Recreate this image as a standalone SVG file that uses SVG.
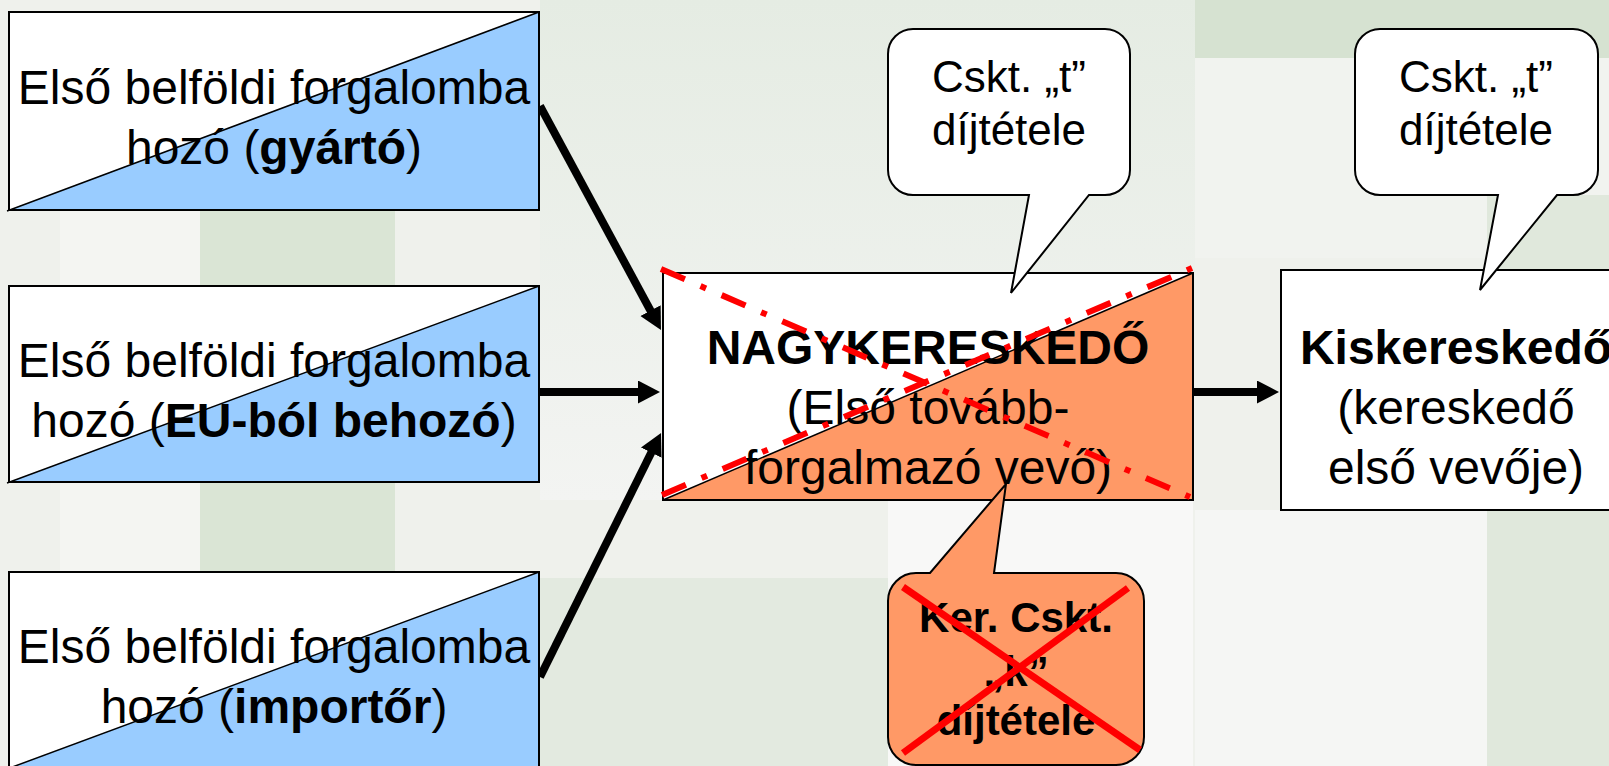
<svg xmlns="http://www.w3.org/2000/svg" width="1609" height="766" viewBox="0 0 1609 766">
<defs>
<style>
.t{font-family:"Liberation Sans",Arial,sans-serif;font-size:48px;fill:#000;text-anchor:middle}
.b{font-weight:bold}
.c{font-family:"Liberation Sans",Arial,sans-serif;font-size:44px;fill:#000;text-anchor:middle}
.box{stroke:#000;stroke-width:2;fill:none}
.diag{stroke:#000;stroke-width:1.5}
.arrow{stroke:#000;stroke-width:8;fill:none;marker-end:url(#ah)}
.red{stroke:#FF0000;stroke-width:6;fill:none;stroke-dasharray:26 17 6 17}
</style>
<marker id="ah" markerUnits="userSpaceOnUse" markerWidth="24" markerHeight="24" refX="1" refY="11.5" orient="auto">
<path d="M0,0 L22,11.5 L0,23 Z" fill="#000"/>
</marker>
<linearGradient id="gtop" x1="0" y1="0" x2="0" y2="1">
<stop offset="0" stop-color="#E5ECE3"/>
<stop offset="1" stop-color="#F3F4F2"/>
</linearGradient>
</defs>
<g id="background">
<rect x="0" y="0" width="1609" height="766" fill="#EFF1EC"/>
<rect x="540" y="0" width="655" height="500" fill="url(#gtop)"/>
<rect x="60" y="210" width="140" height="556" fill="#F4F5F2"/>
<rect x="200" y="210" width="195" height="556" fill="#DAE5D5"/>
<rect x="395" y="210" width="145" height="556" fill="#EFF1EC"/>
<rect x="1195" y="0" width="414" height="58" fill="#D6E2D1"/>
<rect x="1195" y="58" width="414" height="200" fill="#F1F3EF"/>
<rect x="1487" y="195" width="122" height="571" fill="#E0E8DC"/>
<rect x="540" y="578" width="348" height="188" fill="#E3EAE0"/>
<rect x="888" y="500" width="305" height="266" fill="#F8F8F7"/>
<rect x="1195" y="510" width="292" height="256" fill="#F5F6F4"/>
</g>
<g id="connectors">
<line class="arrow" x1="540" y1="106" x2="651" y2="311.5"/>
<line class="arrow" x1="539" y1="392" x2="639" y2="392"/>
<line class="arrow" x1="540" y1="677" x2="651.7" y2="451.8"/>
<line class="arrow" x1="1193" y1="392" x2="1258" y2="392"/>
</g>
<g id="node-gyarto">
<rect x="9" y="12" width="530" height="198" fill="#FFFFFF"/>
<polygon points="9,210 539,12 539,210" fill="#99CCFF"/>
<line class="diag" x1="7" y1="211" x2="539" y2="12"/>
<rect class="box" x="9" y="12" width="530" height="198"/>
<text class="t" x="274" y="104">Első belföldi forgalomba</text>
<text class="t" x="274" y="164">hozó (<tspan class="b">gyártó</tspan>)</text>
</g>
<g id="node-eu">
<rect x="9" y="286" width="530" height="196" fill="#FFFFFF"/>
<polygon points="9,482 539,286 539,482" fill="#99CCFF"/>
<line class="diag" x1="7" y1="483" x2="539" y2="286"/>
<rect class="box" x="9" y="286" width="530" height="196"/>
<text class="t" x="274" y="377">Első belföldi forgalomba</text>
<text class="t" x="274" y="437">hozó (<tspan class="b">EU-ból behozó</tspan>)</text>
</g>
<g id="node-importor">
<rect x="9" y="572" width="530" height="196" fill="#FFFFFF"/>
<polygon points="9,768 539,572 539,768" fill="#99CCFF"/>
<line class="diag" x1="7" y1="769" x2="539" y2="572"/>
<rect class="box" x="9" y="572" width="530" height="196"/>
<text class="t" x="274" y="663">Első belföldi forgalomba</text>
<text class="t" x="274" y="723">hozó (<tspan class="b">importőr</tspan>)</text>
</g>
<g id="node-nagykereskedo">
<rect x="663" y="273" width="530" height="227" fill="#FFFFFF"/>
<polygon points="663,500 1193,273 1193,500" fill="#FF9966"/>
<line class="diag" x1="663" y1="500" x2="1193" y2="273"/>
<rect class="box" x="663" y="273" width="530" height="227"/>
<text class="t b" x="928" y="364">NAGYKERESKEDŐ</text>
<text class="t" x="928" y="424">(Első tovább-</text>
<text class="t" x="928" y="484">forgalmazó vevő)</text>
<line class="red" x1="661" y1="269" x2="1190" y2="497"/>
<line class="red" x1="662" y1="495" x2="1192" y2="268"/>
</g>
<g id="node-kiskereskedo">
<rect x="1281" y="270" width="380" height="240" fill="#FFFFFF" stroke="#000" stroke-width="2"/>
<text class="t b" x="1456" y="364">Kiskereskedő</text>
<text class="t" x="1456" y="424">(kereskedő</text>
<text class="t" x="1456" y="484">első vevője)</text>
</g>
<g id="callout-1">
<path d="M913,29 H1105 A25,25 0 0 1 1130,54 V170 A25,25 0 0 1 1105,195 H1089 L1011,293 L1029,195 H913 A25,25 0 0 1 888,170 V54 A25,25 0 0 1 913,29 Z" fill="#FFFFFF" stroke="#000" stroke-width="2"/>
<text class="c" x="1009" y="92">Cskt. „t”</text>
<text class="c" x="1009" y="145">díjtétele</text>
</g>
<g id="callout-2">
<path d="M1380,29 H1573 A25,25 0 0 1 1598,54 V170 A25,25 0 0 1 1573,195 H1557 L1480,290 L1498,195 H1380 A25,25 0 0 1 1355,170 V54 A25,25 0 0 1 1380,29 Z" fill="#FFFFFF" stroke="#000" stroke-width="2"/>
<text class="c" x="1476" y="92">Cskt. „t”</text>
<text class="c" x="1476" y="145">díjtétele</text>
</g>
<g id="callout-3">
<path d="M916,573 H930 L1006,484 L994,573 H1116 A28,28 0 0 1 1144,601 V737 A28,28 0 0 1 1116,765 H916 A28,28 0 0 1 888,737 V601 A28,28 0 0 1 916,573 Z" fill="#FF9966" stroke="#000" stroke-width="2"/>
<text class="c b" x="1016" y="632" style="font-size:42px">Ker. Cskt.</text>
<text class="c b" x="1016" y="686" style="font-size:42px">„k”</text>
<text class="c b" x="1016" y="735" style="font-size:42px">díjtétele</text>
<line x1="903" y1="587" x2="1140" y2="750" stroke="#FF0000" stroke-width="7"/>
<line x1="903" y1="753" x2="1128" y2="588" stroke="#FF0000" stroke-width="7"/>
</g>
</svg>
